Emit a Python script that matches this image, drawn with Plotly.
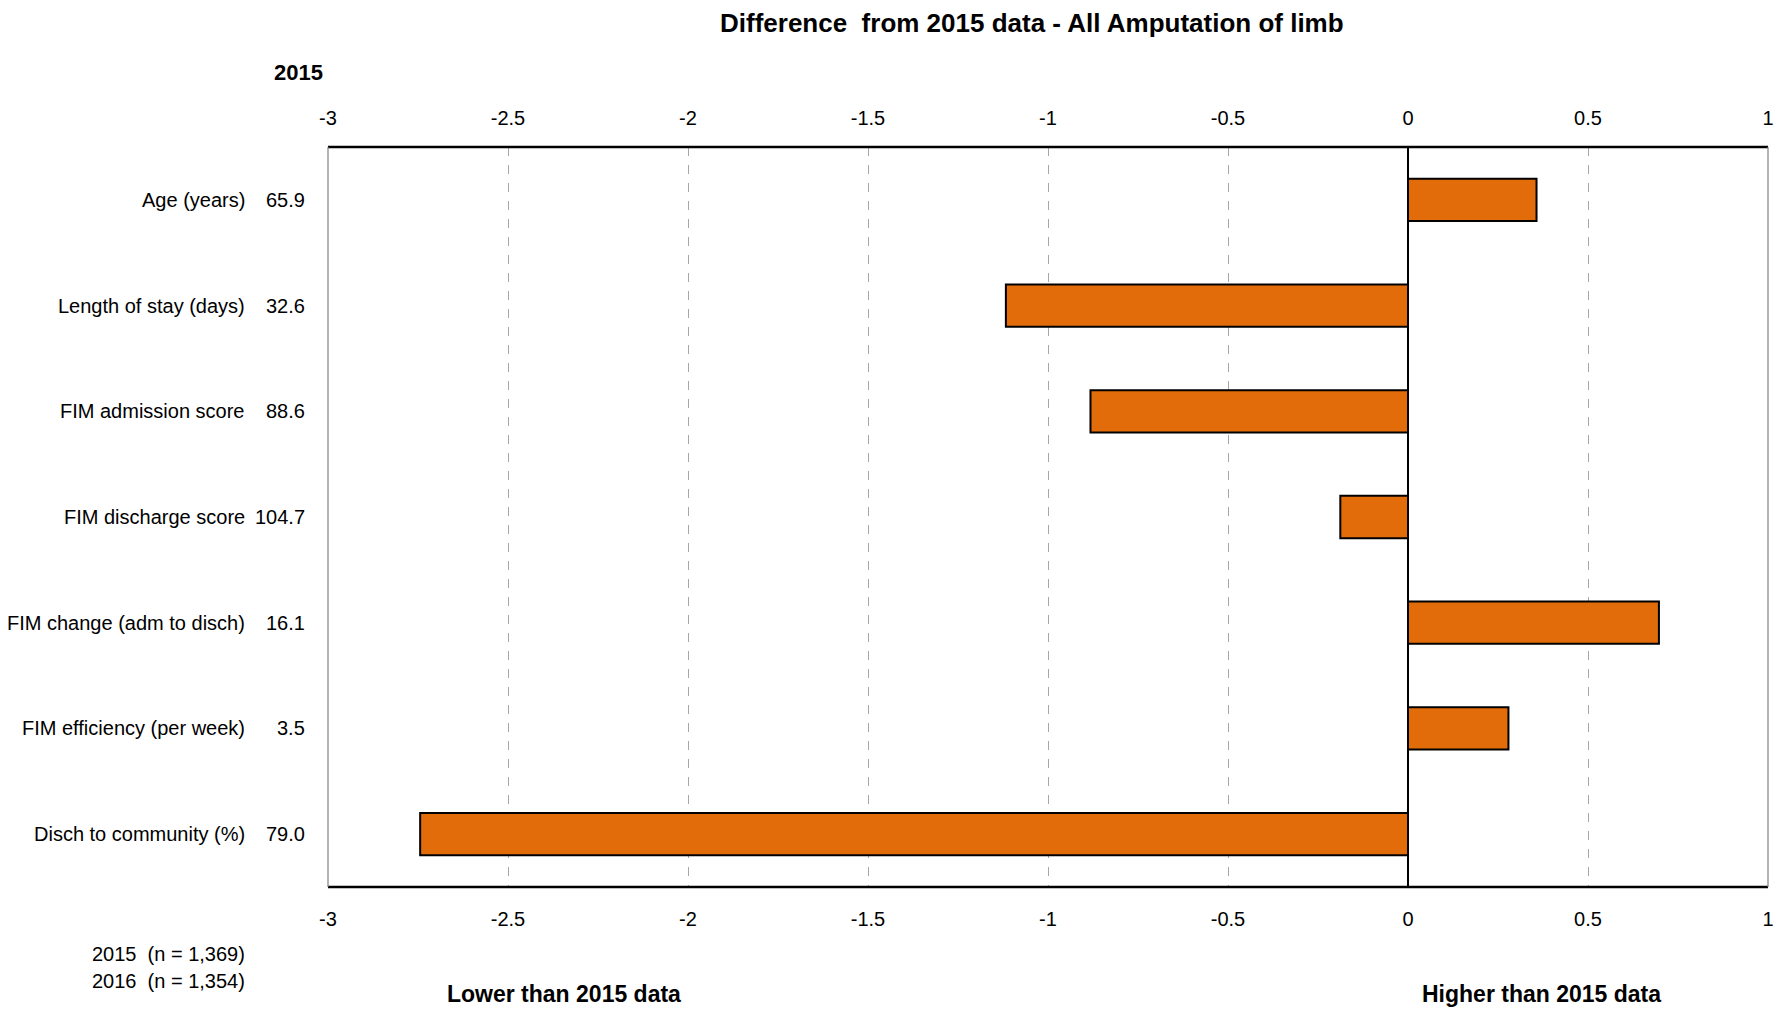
import plotly.graph_objects as go

categories = ["Age (years)", "Length of stay (days)", "FIM admission score",
              "FIM discharge score", "FIM change (adm to disch)",
              "FIM efficiency (per week)", "Disch to community (%)"]
values_2015 = ["65.9", "32.6", "88.6", "104.7", "16.1", "3.5", "79.0"]
differences = [0.357, -1.117, -0.882, -0.188, 0.697, 0.279, -2.744]
tick_vals = [-3, -2.5, -2, -1.5, -1, -0.5, 0, 0.5, 1]
tick_text = ["-3", "-2.5", "-2", "-1.5", "-1", "-0.5", "0", "0.5", "1"]

FONT = "Liberation Sans Narrow, Arial Narrow, Liberation Sans, Arial, sans-serif"
OFF = 8  # default body margin of the html page
W, H = 1791 - OFF, 1010 - OFF
L = 328 - OFF
R = W - (1768 - OFF)
T = 147 - OFF
B = H - (887.5 - OFF)

fig = go.Figure()
fig.add_trace(go.Bar(
    x=differences, y=categories, orientation="h",
    marker=dict(color="#E36C0A", line=dict(color="black", width=2)),
    width=0.4, hoverinfo="x+y", showlegend=False))
fig.add_trace(go.Scatter(x=[-3, 1], y=[categories[0], categories[0]], xaxis="x2",
                         mode="markers", marker=dict(opacity=0), showlegend=False,
                         hoverinfo="skip"))

axis_common = dict(range=[-3, 1], tickvals=tick_vals, ticktext=tick_text,
                   tickfont=dict(family=FONT, size=20, color="black"),
                   ticks="", showline=False)
fig.update_layout(
    width=W, height=H,
    margin=dict(l=L, r=R, t=T, b=B, pad=0),
    paper_bgcolor="white", plot_bgcolor="white",
    font=dict(family=FONT, color="black"),
    xaxis=dict(**axis_common, side="bottom", showgrid=True, gridcolor="#A6A6A6",
               griddash="dash", gridwidth=1, zeroline=True, zerolinecolor="black",
               zerolinewidth=1.5, ticklabelstandoff=18),
    xaxis2=dict(**axis_common, side="top", overlaying="x", matches="x",
                showgrid=False, zeroline=False, ticklabelstandoff=17),
    yaxis=dict(categoryorder="array", categoryarray=categories[::-1],
               range=[-0.5, 6.5], showticklabels=False, showgrid=False,
               zeroline=False, showline=False),
    bargap=0.6,
)

fig.add_shape(type="line", xref="paper", yref="paper", x0=0, x1=1, y0=1, y1=1,
              line=dict(color="black", width=2.5))
fig.add_shape(type="line", xref="paper", yref="paper", x0=0, x1=1, y0=0, y1=0,
              line=dict(color="black", width=2.5))
fig.add_shape(type="line", xref="paper", yref="paper", x0=0, x1=0, y0=0, y1=1,
              line=dict(color="#808080", width=1.2))
fig.add_shape(type="line", xref="paper", yref="paper", x0=1, x1=1, y0=0, y1=1,
              line=dict(color="#808080", width=1.2))

pw = W - L - R
ph = H - T - B
def px_x(px):
    return (px - OFF - L) / pw

def px_y(py):
    return 1 - (py - OFF - T) / ph

for cat, val in zip(categories, values_2015):
    fig.add_annotation(x=px_x(247), y=cat, xref="paper", yref="y", text=cat,
                       showarrow=False, xanchor="right", yanchor="middle",
                       font=dict(family=FONT, size=20, color="black"))
    fig.add_annotation(x=px_x(307), y=cat, xref="paper", yref="y", text=val,
                       showarrow=False, xanchor="right", yanchor="middle",
                       font=dict(family=FONT, size=20, color="black"))

fig.add_annotation(x=px_x(1032), y=px_y(23), xref="paper", yref="paper",
                   text="<b>Difference  from 2015 data - All Amputation of limb</b>",
                   showarrow=False, xanchor="center", yanchor="middle",
                   font=dict(family=FONT, size=26, color="black"))
fig.add_annotation(x=px_x(298), y=px_y(72), xref="paper", yref="paper",
                   text="<b>2015</b>", showarrow=False, xanchor="center", yanchor="middle",
                   font=dict(family=FONT, size=22, color="black"))
fig.add_annotation(x=px_x(247), y=px_y(955), xref="paper", yref="paper",
                   text="2015  (n = 1,369)", showarrow=False, xanchor="right",
                   yanchor="middle", font=dict(family=FONT, size=20, color="black"))
fig.add_annotation(x=px_x(247), y=px_y(982), xref="paper", yref="paper",
                   text="2016  (n = 1,354)", showarrow=False, xanchor="right",
                   yanchor="middle", font=dict(family=FONT, size=20, color="black"))
fig.add_annotation(x=px_x(564), y=px_y(995), xref="paper", yref="paper",
                   text="<b>Lower than 2015 data</b>", showarrow=False, xanchor="center",
                   yanchor="middle", font=dict(family=FONT, size=23, color="black"))
fig.add_annotation(x=px_x(1541), y=px_y(995), xref="paper", yref="paper",
                   text="<b>Higher than 2015 data</b>", showarrow=False, xanchor="center",
                   yanchor="middle", font=dict(family=FONT, size=23, color="black"))

fig.write_html("out.html")
